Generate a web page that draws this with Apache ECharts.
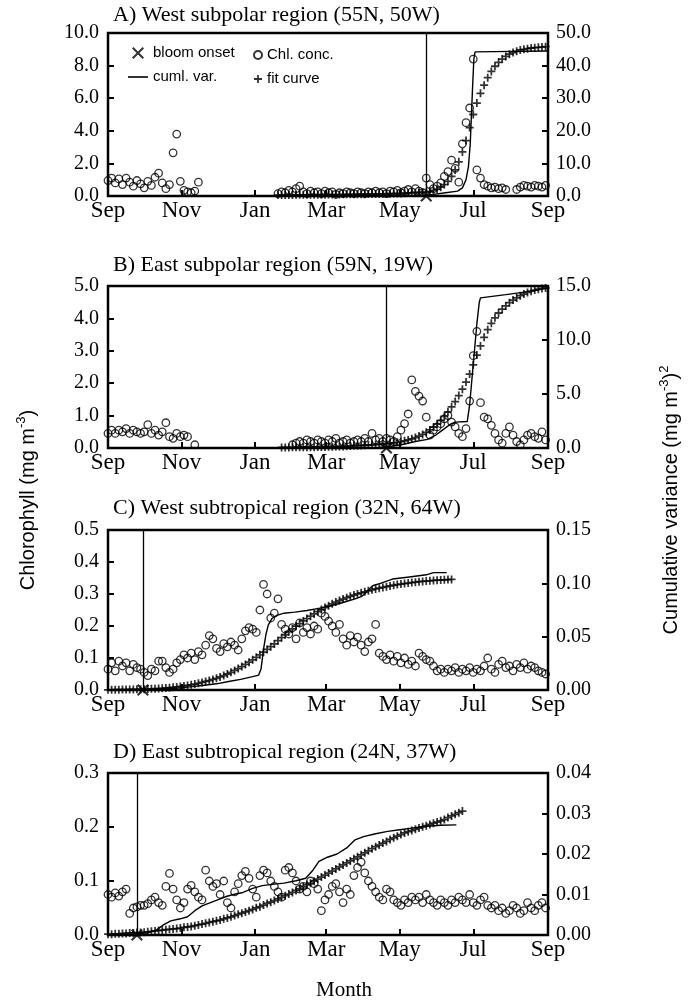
<!DOCTYPE html>
<html><head><meta charset="utf-8">
<script src="https://cdn.jsdelivr.net/npm/echarts@6/dist/echarts.min.js"></script>
<style>html,body{margin:0;padding:0;background:#fff}#chart{width:693px;height:1005px}</style>
</head><body><div id="chart"></div>
<script>
// ---------- axis ticks ----------
const monthDays = [0, 61, 122, 181, 242, 303, 365];
const monthLabels = ['Sep', 'Nov', 'Jan', 'Mar', 'May', 'Jul', 'Sep'];
const panelTitles = ['A) West subpolar region (55N, 50W)', 'B) East subpolar region (59N, 19W)',
  'C) West subtropical region (32N, 64W)', 'D) East subtropical region (24N, 37W)'];
const leftMax = [10, 5, 0.5, 0.3];
const leftInterval = [2, 1, 0.1, 0.1];
const rightMax = [50, 15, 0.15, 0.04];
const rightInterval = [10, 5, 0.05, 0.01];
const rightDecimals = [1, 1, 2, 2];

// ---------- chlorophyll samples, every 3 days from 1 Sep (day 0) ----------
const chlStep = 3;
const chlA = [0.95,1.10,0.80,1.05,0.70,1.10,0.85,0.60,0.95,0.75,
  0.50,0.90,0.65,1.15,1.40,0.80,0.45,0.70,2.65,3.80,
  0.90,0.35,0.25,0.20,0.30,0.85,
  null,null,null,null,null,null,null,null,null,null,null,null,null,null,null,null,null,null,null,null,null,
  0.15,0.25,0.20,0.35,0.25,0.45,0.60,0.25,0.15,0.30,
  0.20,0.25,0.15,0.30,0.20,0.25,0.10,0.20,0.15,0.25,
  0.20,0.15,0.25,0.20,0.15,0.25,0.20,0.30,0.20,0.25,
  0.15,0.30,0.25,0.35,0.20,0.30,0.40,0.25,0.45,0.30,
  0.20,1.10,0.70,0.45,0.60,0.80,1.20,1.50,2.20,1.70,
  0.85,3.20,4.50,5.40,8.40,1.60,1.10,0.70,0.60,0.50,
  0.55,0.45,0.50,0.40,null,null,0.40,0.55,0.65,0.60,
  0.55,0.65,0.60,0.55,0.65];
const chlB = [0.45,0.55,0.45,0.55,0.50,0.60,0.45,0.55,0.50,0.45,
  0.50,0.72,0.45,0.55,0.40,0.50,0.78,0.35,0.30,0.45,
  0.35,0.40,0.35,null,0.10,
  null,null,null,null,null,null,null,null,null,null,null,null,null,null,null,null,null,null,null,null,null,null,null,null,null,null,
  0.10,0.15,0.20,0.15,0.25,0.20,0.15,0.25,0.20,0.15,
  0.25,0.20,0.30,0.15,0.20,0.25,0.15,0.20,0.25,0.20,
  0.30,0.20,0.45,0.25,0.30,0.20,0.30,0.25,0.20,0.35,
  0.55,0.75,1.05,2.10,1.75,1.60,1.45,0.95,0.40,0.55,
  0.65,0.75,0.90,1.00,0.80,0.65,0.45,0.35,0.60,1.45,
  2.85,3.60,1.40,0.95,0.90,0.70,0.45,0.25,0.15,0.45,
  0.65,0.40,0.20,0.10,0.25,0.40,0.45,0.35,0.30,0.50,0.25];
const chlC = [0.065,0.085,0.060,0.090,0.075,0.085,0.060,0.080,0.070,0.065,
  0.055,0.045,0.065,0.060,0.090,0.090,0.070,0.055,0.065,0.085,
  0.095,0.110,0.100,0.115,0.095,0.120,0.110,0.140,0.170,0.160,
  0.130,0.120,0.145,0.135,0.150,0.140,0.125,0.160,0.185,0.195,
  0.190,0.180,0.250,0.330,0.300,0.225,0.240,0.285,0.205,0.190,
  0.175,0.195,0.160,0.210,0.180,0.195,0.175,0.200,0.190,0.240,
  0.230,0.215,0.200,0.180,0.205,0.160,0.140,0.170,0.150,0.165,
  0.140,0.120,0.150,0.160,0.205,0.115,0.105,0.095,0.110,0.090,
  0.105,0.085,0.100,0.080,0.090,0.075,0.115,0.105,0.095,0.090,
  0.075,0.060,0.065,0.055,0.065,0.060,0.070,0.055,0.065,0.060,
  0.070,0.055,0.065,0.060,0.075,0.100,0.065,0.055,0.080,0.090,
  0.070,0.075,0.060,0.080,0.070,0.085,0.065,0.075,0.070,0.060,
  0.055,0.050];
const chlD = [0.075,0.070,0.078,0.072,0.080,0.085,0.040,0.050,0.052,0.055,
  0.055,0.058,0.065,0.070,0.060,0.055,0.090,0.114,0.085,0.065,
  0.050,0.060,0.085,0.092,0.080,0.070,0.065,0.120,0.100,0.090,
  0.095,0.075,0.100,0.060,0.050,0.080,0.095,0.110,0.118,0.105,
  0.085,0.070,0.110,0.120,0.115,0.100,0.090,0.080,0.070,0.120,
  0.125,0.115,0.100,0.085,0.090,0.080,0.100,0.095,0.085,0.045,
  0.065,0.075,0.090,0.095,0.080,0.060,0.085,0.075,0.110,0.125,
  0.135,0.115,0.100,0.090,0.080,0.070,0.065,0.085,0.080,0.065,
  0.060,0.055,0.065,0.060,0.070,0.065,0.070,0.060,0.075,0.065,
  0.060,0.055,0.065,0.060,0.055,0.065,0.060,0.070,0.065,0.060,
  0.075,0.060,0.055,0.065,0.070,0.055,0.050,0.055,0.045,0.050,
  0.040,0.045,0.055,0.050,0.040,0.045,0.060,0.050,0.045,0.055,
  0.060,0.050];

// ---------- fit curve samples, every 3 days from given start day ----------
const fitStep = 3;
const fitStart = [141, 144, 0, 0];
const fitA = [0.3,0.3,0.3,0.3,0.3,0.35,0.35,0.35,0.35,0.4,
  0.4,0.4,0.4,0.4,0.45,0.45,0.45,0.45,0.5,0.5,
  0.5,0.5,0.55,0.55,0.55,0.6,0.6,0.6,0.65,0.65,
  0.7,0.7,0.75,0.75,0.8,0.85,0.9,0.95,1.0,1.05,
  1.1,1.2,1.4,1.7,2.1,2.7,3.5,4.5,6.0,8.0,10.5,
  13.5,17.0,21.0,25.0,28.5,31.5,34.0,36.3,38.2,39.8,
  41.0,42.0,42.8,43.5,44.0,44.4,44.8,45.0,45.2,45.4,
  45.5,45.6,45.7,45.8];
const fitB = [0.05,0.05,0.05,0.06,0.06,0.06,0.07,0.07,0.08,0.08,
  0.09,0.10,0.10,0.11,0.12,0.13,0.14,0.15,0.17,0.18,
  0.20,0.21,0.23,0.25,0.27,0.29,0.32,0.34,0.37,0.40,
  0.44,0.48,0.53,0.59,0.66,0.75,0.85,0.97,1.10,1.26,
  1.45,1.67,1.93,2.22,2.55,2.92,3.34,3.80,4.30,4.85,
  5.45,6.10,6.85,7.70,8.60,9.45,10.25,10.95,11.55,12.05,
  12.50,12.85,13.15,13.45,13.70,13.90,14.10,14.25,14.40,14.52,
  14.62,14.70,14.77,14.82];
const fitC = [.0002,.0002,.0003,.0003,.0004,.0004,.0005,.0005,.0006,.0007,
  .0008,.0009,.0011,.0012,.0014,.0016,.0019,.0022,.0025,.0029,
  .0033,.0038,.0043,.0049,.0056,.0063,.0071,.0080,.0089,.0099,
  .0110,.0122,.0135,.0150,.0166,.0183,.0201,.0220,.0240,.0261,
  .0283,.0306,.0330,.0355,.0380,.0406,.0432,.0462,.0490,.0518,
  .0545,.0572,.0598,.0623,.0647,.0670,.0692,.0713,.0734,.0754,
  .0773,.0791,.0808,.0824,.0839,.0853,.0866,.0878,.0890,.0901,
  .0911,.0921,.0930,.0939,.0947,.0955,.0962,.0969,.0976,.0982,
  .0988,.0993,.0998,.1003,.1007,.1011,.1015,.1018,.1021,.1024,
  .1027,.1029,.1031,.1033,.1035,.1037];
const fitD = [.0002,.0002,.0003,.0003,.0004,.0004,.0005,.0005,.0006,.0006,
  .0007,.0008,.0009,.0010,.0011,.0012,.0013,.0014,.0015,.0016,
  .0017,.0019,.0020,.0021,.0023,.0025,.0027,.0029,.0031,.0033,
  .0035,.0037,.0040,.0042,.0045,.0048,.0051,.0054,.0057,.0060,
  .0063,.0067,.0070,.0074,.0078,.0081,.0085,.0089,.0093,.0097,
  .0101,.0105,.0110,.0114,.0119,.0124,.0128,.0133,.0138,.0143,
  .0148,.0153,.0158,.0163,.0168,.0173,.0178,.0183,.0188,.0193,
  .0198,.0203,.0208,.0213,.0218,.0222,.0227,.0231,.0236,.0240,
  .0244,.0248,.0252,.0255,.0258,.0261,.0264,.0267,.0270,.0273,
  .0276,.0279,.0282,.0285,.0290,.0294,.0298,.0302,.0306];

// ---------- cumulative variance ----------
const cumDaysA = [140, 262, 270, 280, 290, 294, 297, 299, 300.5, 301.5, 302.5, 303.5, 304.5, 320, 365];
const cumValsA = [0, 0.1, 0.5, 1.0, 1.5, 2.5, 5, 9, 16, 25, 34, 42, 44.2, 44.3, 44.5];
const cumDaysB = [145, 225, 235, 245, 255, 265, 272, 278, 284, 288, 298, 300, 302, 304, 306, 308, 309, 330, 350, 365];
const cumValsB = [0, 0.05, 0.15, 0.35, 0.6, 0.8, 1.2, 1.7, 2.2, 2.4, 2.45, 4.0, 6.5, 9.0, 11.5, 13.5, 13.9, 14.2, 14.5, 14.8];
const cumDaysC = [29, 40, 50, 60, 70, 80, 90, 100, 110, 120, 125, 127, 129, 131, 133, 136, 140, 146, 155, 165, 175, 185, 195, 205, 210, 213, 216, 220, 226, 236, 250, 264, 270, 281];
const cumValsC = [0.0000, 0.0005, 0.0012, 0.0020, 0.0032, 0.0045, 0.0058, 0.0080, 0.0100, 0.0125, 0.0140, 0.0200, 0.0380, 0.0520, 0.0610, 0.0670, 0.0700, 0.0720, 0.0730, 0.0745, 0.0765, 0.0790, 0.0820, 0.0855, 0.0875, 0.0900, 0.0940, 0.0980, 0.1000, 0.1040, 0.1060, 0.1080, 0.1100, 0.1100];
const cumDaysD = [24, 32, 40, 46, 52, 60, 66, 72, 78, 85, 92, 98, 104, 112, 120, 128, 136, 146, 156, 164, 170, 175, 182, 190, 198, 205, 212, 222, 232, 242, 252, 262, 276, 289];
const cumValsD = [0.0003, 0.0005, 0.0012, 0.0025, 0.0035, 0.0040, 0.0045, 0.0060, 0.0072, 0.0080, 0.0088, 0.0095, 0.0100, 0.0105, 0.0115, 0.0122, 0.0125, 0.0128, 0.0134, 0.0140, 0.0160, 0.0182, 0.0192, 0.0200, 0.0215, 0.0235, 0.0243, 0.0250, 0.0256, 0.0260, 0.0264, 0.0268, 0.0271, 0.0272];

// ---------- bloom onset (day from 1 Sep) ----------
const onsetDays = [264, 231, 29, 24];

// ---------- build ----------
const chlAll = [chlA, chlB, chlC, chlD];
const fitAll = [fitA, fitB, fitC, fitD];
const cumDaysAll = [cumDaysA, cumDaysB, cumDaysC, cumDaysD];
const cumValsAll = [cumValsA, cumValsB, cumValsC, cumValsD];

const gridTops = [33, 286, 530, 773];
const gridHeights = [163, 162, 160, 162];
const titleTops = [2, 252, 495, 739];

const plusPath = 'path://M3.9,0H6.1V3.9H10V6.1H6.1V10H3.9V6.1H0V3.9H3.9Z';
const xPath = 'path://M1.2,0L5,3.8L8.8,0L10,1.2L6.2,5L10,8.8L8.8,10L5,6.2L1.2,10L0,8.8L3.8,5L0,1.2Z';
const linePath = 'path://M0,0H20V1.6H0Z';
const serif = 'Liberation Serif';
const sans = 'Liberation Sans';

const grids = [], xAxes = [], yAxes = [], series = [], titles = [];
for (let k = 0; k < 4; k++) {
  grids.push({left: 108, width: 440, top: gridTops[k], height: gridHeights[k],
    show: true, borderColor: '#000', borderWidth: 2.5, backgroundColor: 'transparent'});
  xAxes.push({type: 'value', gridIndex: k, min: 0, max: 365,
    axisLine: {show: false}, splitLine: {show: false},
    axisTick: {show: true, inside: true, length: 6, customValues: monthDays, lineStyle: {color: '#000', width: 2}},
    axisLabel: {customValues: monthDays, margin: 3, color: '#000', fontFamily: serif, fontSize: 23,
      formatter: v => { const i = monthDays.indexOf(v); return i >= 0 ? monthLabels[i] : ''; }}
  });
  yAxes.push({type: 'value', gridIndex: k, position: 'left', min: 0, max: leftMax[k], interval: leftInterval[k],
    axisLine: {show: false}, splitLine: {show: false},
    axisTick: {show: true, inside: true, length: 6, lineStyle: {color: '#000', width: 2}},
    axisLabel: {margin: 9, color: '#000', fontFamily: serif, fontSize: 20, formatter: v => v.toFixed(1)}});
  yAxes.push({type: 'value', gridIndex: k, position: 'right', min: 0, max: rightMax[k], interval: rightInterval[k],
    axisLine: {show: false}, splitLine: {show: false},
    axisTick: {show: true, inside: true, length: 6, lineStyle: {color: '#000', width: 2}},
    axisLabel: {margin: 8, color: '#000', fontFamily: serif, fontSize: 20, formatter: v => v.toFixed(rightDecimals[k])}});

  const chlPts = [];
  chlAll[k].forEach((v, i) => { if (v !== null) chlPts.push([i * chlStep, v]); });
  const fitPts = fitAll[k].map((v, i) => [fitStart[k] + i * fitStep, v]);
  const cumPts = cumDaysAll[k].map((d, i) => [d, cumValsAll[k][i]]);

  series.push({type: 'scatter', name: 'Chl. conc.', xAxisIndex: k, yAxisIndex: 2 * k, data: chlPts,
    symbol: 'circle', symbolSize: 7.5, z: 2,
    itemStyle: {color: 'rgba(0,0,0,0)', borderColor: '#000', borderWidth: 1.3}});
  series.push({type: 'line', name: 'cuml. var.', xAxisIndex: k, yAxisIndex: 2 * k + 1, data: cumPts,
    symbol: 'none', z: 3, lineStyle: {color: '#000', width: 1.4}, itemStyle: {color: '#000'}});
  series.push({type: 'scatter', name: 'fit curve', xAxisIndex: k, yAxisIndex: 2 * k + 1, data: fitPts,
    symbol: plusPath, symbolSize: 8, z: 4, itemStyle: {color: '#000'}});
  series.push({type: 'scatter', name: 'bloom onset', xAxisIndex: k, yAxisIndex: 2 * k, data: [[onsetDays[k], 0]],
    symbol: xPath, symbolSize: 12, clip: false, z: 5, itemStyle: {color: '#000'},
    markLine: {silent: true, symbol: 'none', label: {show: false}, animation: false,
      lineStyle: {color: '#000', width: 1.3, type: 'solid'}, data: [{xAxis: onsetDays[k]}]}});

  titles.push({text: panelTitles[k], left: 113, top: titleTops[k], padding: 0,
    textStyle: {fontFamily: serif, fontSize: 22, fontWeight: 'normal', color: '#000', lineHeight: 26}});
}
titles.push({text: 'Month', left: 316, top: 977, padding: 0,
  textStyle: {fontFamily: serif, fontSize: 21, fontWeight: 'normal', color: '#000', lineHeight: 26}});

const legendText = {fontFamily: sans, fontSize: 15, color: '#000', lineHeight: 16};
const option = {
  animation: false,
  backgroundColor: '#fff',
  title: titles,
  grid: grids, xAxis: xAxes, yAxis: yAxes, series: series,
  legend: [
    {orient: 'vertical', left: 128, top: 45, padding: 0, itemWidth: 20, itemHeight: 12, itemGap: 8,
      selectedMode: false, textStyle: legendText,
      data: [{name: 'bloom onset', icon: xPath}, {name: 'cuml. var.', icon: linePath}]},
    {orient: 'vertical', left: 253, top: 47, padding: 0, itemWidth: 8, itemHeight: 8, itemGap: 8,
      selectedMode: false, textStyle: legendText,
      data: [{name: 'Chl. conc.'}, {name: 'fit curve', icon: plusPath}]}
  ],
  graphic: [
    {type: 'text', x: 28, y: 500, rotation: Math.PI / 2,
      style: {text: '{a|Chlorophyll (mg m}{s|-3}{a|)}', align: 'center', verticalAlign: 'middle',
        textAlign: 'center', textVerticalAlign: 'middle', fill: '#000',
        rich: {a: {fontFamily: sans, fontSize: 20, lineHeight: 26, fill: '#000'},
               s: {fontFamily: sans, fontSize: 13, lineHeight: 16, verticalAlign: 'top', fill: '#000'}}}},
    {type: 'text', x: 671, y: 500, rotation: Math.PI / 2,
      style: {text: '{a|Cumulative variance (mg m}{s|-3}{a|)}{s|2}', align: 'center', verticalAlign: 'middle',
        textAlign: 'center', textVerticalAlign: 'middle', fill: '#000',
        rich: {a: {fontFamily: sans, fontSize: 20, lineHeight: 26, fill: '#000'},
               s: {fontFamily: sans, fontSize: 13, lineHeight: 16, verticalAlign: 'top', fill: '#000'}}}}
  ]
};
const chart = echarts.init(document.getElementById('chart'), null, {renderer: 'canvas'});
chart.setOption(option);
</script>
</body></html>
